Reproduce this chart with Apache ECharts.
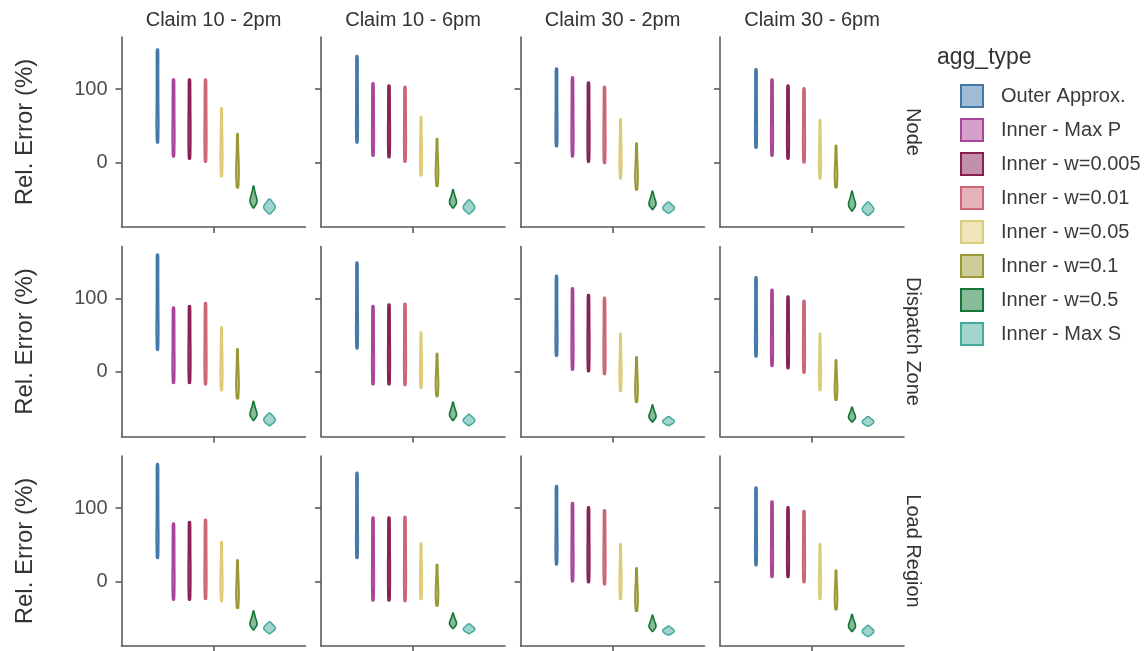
<!DOCTYPE html>
<html>
<head>
<meta charset="utf-8">
<title>Rel. Error by agg_type</title>
<script src="https://cdn.jsdelivr.net/npm/echarts@6/dist/echarts.min.js"></script>
<style>
  html, body { margin: 0; padding: 0; background: #fff; }
  #chart { width: 1148px; height: 651px; }
</style>
</head>
<body>
<div id="chart"></div>
<script>
// facets
var claims = ['Claim 10 - 2pm', 'Claim 10 - 6pm', 'Claim 30 - 2pm', 'Claim 30 - 6pm'];
var levels = ['Node', 'Dispatch Zone', 'Load Region'];
var aggTypes = ['Outer Approx.', 'Inner - Max P', 'Inner - w=0.005', 'Inner - w=0.01',
                'Inner - w=0.05', 'Inner - w=0.1', 'Inner - w=0.5', 'Inner - Max S'];
var yTicks = [0, 100];

// violin extents (min / max of Rel. Error %), one array of 8 per claim column
var nodeMin = [[27, 8, 5, 1, -19, -34, -62, -70], [27, 9, 7, 1, -18, -32, -62, -70],
               [22, 8, 1, -1, -22, -37, -64, -69], [20, 9, 5, 0, -22, -34, -66, -72]];
var nodeMax = [[154, 113, 113, 113, 74, 39, -32, -50], [145, 108, 105, 103, 62, 32, -37, -51],
               [128, 116, 109, 103, 59, 26, -39, -54], [127, 113, 105, 101, 58, 23, -39, -54]];
var zoneMin = [[30, -15, -15, -17, -25, -36, -66, -73], [32, -17, -17, -18, -22, -33, -66, -73],
               [22, 3, 1, -3, -26, -41, -68, -73], [21, 8, 5, -1, -25, -38, -68, -74]];
var zoneMax = [[160, 88, 90, 94, 61, 31, -40, -56], [149, 90, 92, 93, 54, 25, -41, -58],
               [131, 114, 105, 101, 52, 20, -45, -61], [129, 112, 103, 97, 52, 16, -48, -61]];
var regionMin = [[32, -25, -25, -24, -27, -36, -66, -71], [32, -26, -26, -27, -24, -33, -64, -71],
                 [23, 0, -1, -4, -24, -40, -68, -73], [22, 6, 6, -1, -24, -38, -68, -75]];
var regionMax = [[160, 79, 81, 84, 54, 29, -40, -55], [148, 87, 87, 88, 52, 23, -43, -58],
                 [130, 107, 101, 97, 51, 18, -46, -61], [128, 109, 101, 96, 51, 15, -45, -60]];

var mins = [nodeMin, zoneMin, regionMin];
var maxs = [nodeMax, zoneMax, regionMax];

// look of each violin
var colors = ['#4477AA', '#AA4499', '#882255', '#CC6677', '#DDCC77', '#999933', '#117733', '#44AA99'];
var fills = ['rgba(68,119,170,0.5)', 'rgba(170,68,153,0.5)', 'rgba(136,34,85,0.5)', 'rgba(204,102,119,0.5)',
             'rgba(221,204,119,0.5)', 'rgba(153,153,51,0.5)', 'rgba(17,119,51,0.5)', 'rgba(68,170,153,0.5)'];
// relative half widths from bottom to top, first and last are the blunt ends
var shapes = [
  [0.6, 0.9, 1, 0.9, 0.85, 0.8, 0.8, 0.75, 0.8, 0.6],
  [0.6, 0.9, 1, 1, 0.9, 0.9, 0.85, 0.85, 0.8, 0.6],
  [0.6, 0.9, 1, 1, 1, 0.9, 0.85, 0.85, 0.8, 0.6],
  [0.6, 0.9, 1, 1, 0.95, 0.9, 0.85, 0.85, 0.8, 0.6],
  [0.5, 0.8, 1, 1, 0.9, 0.8, 0.7, 0.6, 0.5, 0.4],
  [0.5, 0.8, 1, 1, 0.9, 0.75, 0.6, 0.5, 0.4, 0.3],
  [0.1, 0.5, 0.9, 1, 0.9, 0.7, 0.5, 0.35, 0.2, 0.05],
  [0.1, 0.5, 0.85, 1, 0.95, 0.7, 0.4, 0.1]
];
var halfWidths = [0.07, 0.07, 0.07, 0.07, 0.07, 0.085, 0.22, 0.36];
var strokeWidths = [2, 2, 2, 2, 2, 2, 1.6, 1.5];

var lefts = [121.5, 321, 520.5, 720];
var tops = [37, 246.5, 456];
var panelW = 184, panelH = 190;

var FONT = 'Liberation Sans, Arial, sans-serif';
var AXIS = { color: '#5a5a5a', width: 1.6 };

function violin(k) {
  var shape = shapes[k];
  return function (params, api) {
    var x = api.value(0), lo = api.value(1), hi = api.value(2);
    var w = api.size([halfWidths[k], 0])[0];
    var n = shape.length - 1;
    var rightSide = [], leftSide = [];
    for (var i = 0; i < shape.length; i++) {
      var c = api.coord([x, lo + (hi - lo) * i / n]);
      rightSide.push([c[0] + w * shape[i], c[1]]);
      leftSide.push([c[0] - w * shape[i], c[1]]);
    }
    var pts = rightSide.concat(leftSide.reverse());
    return {
      type: 'polygon',
      shape: { points: pts, smooth: 0.3 },
      style: { fill: fills[k], stroke: colors[k], lineWidth: strokeWidths[k] }
    };
  };
}

var grids = [], xAxes = [], yAxes = [], series = [], graphics = [];
levels.forEach(function (lvl, r) {
  claims.forEach(function (cl, c) {
    var idx = r * 4 + c;
    grids.push({ left: lefts[c], top: tops[r], width: panelW, height: panelH });
    xAxes.push({
      gridIndex: idx, type: 'value', min: -2.25, max: 9.25,
      axisLine: { onZero: false, lineStyle: AXIS },
      axisTick: { customValues: [3.5], length: 6, lineStyle: AXIS },
      axisLabel: { show: false }, splitLine: { show: false }
    });
    yAxes.push({
      gridIndex: idx, type: 'value', min: -88, max: 171,
      axisLine: { show: true, onZero: false, lineStyle: AXIS },
      axisTick: { show: true, customValues: yTicks, length: 6, lineStyle: AXIS },
      axisLabel: { show: c === 0, customValues: yTicks, margin: 14, fontSize: 20,
                   fontFamily: FONT, color: '#4d4d4d' },
      splitLine: { show: false }
    });
    aggTypes.forEach(function (name, k) {
      series.push({
        type: 'custom', name: name, xAxisIndex: idx, yAxisIndex: idx,
        renderItem: violin(k),
        itemStyle: { color: colors[k] },
        encode: { x: 0, y: [1, 2] },
        data: [[k, mins[r][c][k], maxs[r][c][k]]],
        silent: true
      });
    });
  });
  // row label on the right and y title on the left
  graphics.push({
    type: 'text', x: 913, y: tops[r] + panelH / 2, rotation: -Math.PI / 2,
    style: { text: lvl, font: '20px ' + FONT, fill: '#333', align: 'center', verticalAlign: 'middle' }
  });
  graphics.push({
    type: 'text', x: 25, y: tops[r] + panelH / 2, rotation: Math.PI / 2,
    style: { text: 'Rel. Error (%)', font: '24px ' + FONT, fill: '#333', align: 'center', verticalAlign: 'middle' }
  });
});
claims.forEach(function (cl, c) {
  graphics.push({
    type: 'text', x: lefts[c] + panelW / 2, y: 20,
    style: { text: cl, font: '20px ' + FONT, fill: '#333', align: 'center', verticalAlign: 'middle' }
  });
});
graphics.push({
  type: 'text', x: 937, y: 58,
  style: { text: 'agg_type', font: '23px ' + FONT, fill: '#333', align: 'left', verticalAlign: 'middle' }
});

var chart = echarts.init(document.getElementById('chart'), null, { renderer: 'canvas' });
chart.setOption({
  animation: false,
  backgroundColor: '#fff',
  grid: grids,
  xAxis: xAxes,
  yAxis: yAxes,
  legend: {
    orient: 'vertical', left: 955, top: 79,
    itemWidth: 22, itemHeight: 22, itemGap: 10, icon: 'rect',
    selectedMode: false,
    textStyle: { fontSize: 20, fontFamily: FONT, color: '#3a3a3a', padding: [0, 0, 0, 13] },
    data: aggTypes.map(function (name, k) {
      return { name: name, itemStyle: { color: fills[k], borderColor: colors[k], borderWidth: 2 } };
    })
  },
  graphic: graphics,
  series: series
});
</script>
</body>
</html>
